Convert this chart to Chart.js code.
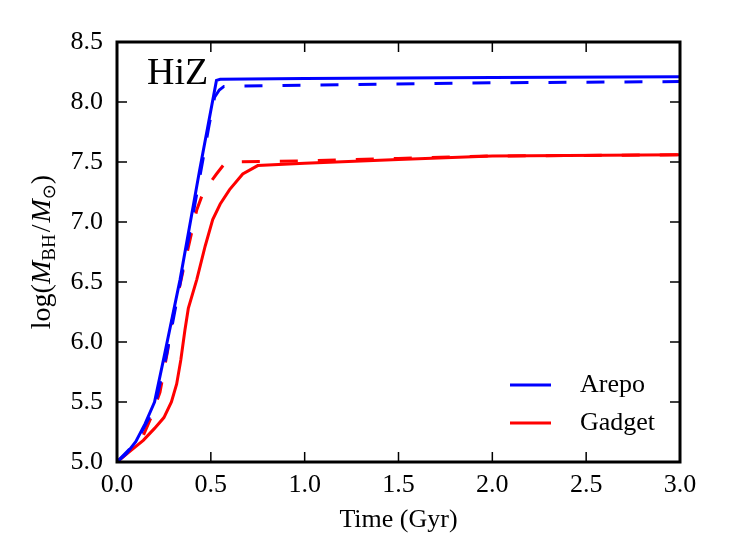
<!DOCTYPE html>
<html>
<head>
<meta charset="utf-8">
<script src="https://cdn.jsdelivr.net/npm/chart.js@4.4.1/dist/chart.umd.min.js"></script>
<style>
  html, body { margin: 0; padding: 0; background: #fff; }
</style>
</head>
<body>
<canvas id="grafico" width="731" height="551"></canvas>
<script>
// dados (Time em Gyr, log M_BH)
var tempoArepo = [0, 0.05, 0.1, 0.15, 0.2, 0.25, 0.336, 0.44, 0.53, 0.55, 1.0, 2.0, 3.0];
var mbhArepo = [5.0, 5.07, 5.17, 5.32, 5.5, 5.87, 6.52, 7.43, 8.18, 8.19, 8.195, 8.205, 8.21];

var tempoArepoTrac = [0, 0.1, 0.2, 0.265, 0.39, 0.49, 0.52, 0.545, 0.57, 1.0, 2.0, 3.0];
var mbhArepoTrac = [5.0, 5.16, 5.45, 5.9, 6.93, 7.8, 8.04, 8.1, 8.13, 8.14, 8.16, 8.17];

var tempoGadget = [0, 0.07, 0.14, 0.2, 0.25, 0.29, 0.318, 0.34, 0.362, 0.38, 0.425, 0.47, 0.51, 0.55, 0.6, 0.67, 0.75, 1.0, 1.5, 2.0, 3.0];
var mbhGadget = [5.0, 5.09, 5.18, 5.28, 5.37, 5.5, 5.65, 5.85, 6.1, 6.28, 6.52, 6.8, 7.02, 7.15, 7.27, 7.4, 7.47, 7.49, 7.52, 7.55, 7.56];

var tempoGadgetTrac = [0, 0.07, 0.14, 0.176, 0.229, 0.27, 0.291, 0.353, 0.425, 0.46, 0.53, 0.575, 0.6, 1.0, 1.5, 2.0, 3.0];
var mbhGadgetTrac = [5.0, 5.1, 5.22, 5.35, 5.58, 5.93, 6.16, 6.6, 7.1, 7.25, 7.4, 7.49, 7.5, 7.51, 7.53, 7.55, 7.56];

var ticksX = [0, 0.5, 1.0, 1.5, 2.0, 2.5, 3.0];
var ticksY = [5.0, 5.5, 6.0, 6.5, 7.0, 7.5, 8.0, 8.5];
var nomesLegenda = ['Arepo', 'Gadget'];

var azul = '#0000ff';
var vermelho = '#ff0000';
var fonte = '"Liberation Serif", "DejaVu Serif", serif';

function pontos(xs, ys) {
  var out = [];
  for (var i = 0; i < xs.length; i++) {
    out.push({ x: xs[i], y: ys[i] });
  }
  return out;
}

// moldura e ticks para dentro (estilo matplotlib)
var moldura = {
  id: 'moldura',
  afterDatasetsDraw: function (chart) {
    var ctx = chart.ctx;
    var a = chart.chartArea;
    var sx = chart.scales.x, sy = chart.scales.y;
    ctx.save();
    ctx.strokeStyle = '#000';
    ctx.lineWidth = 1.5;
    ctx.beginPath();
    ticksX.forEach(function (v) {
      var px = sx.getPixelForValue(v);
      ctx.moveTo(px, a.bottom); ctx.lineTo(px, a.bottom - 10);
      ctx.moveTo(px, a.top); ctx.lineTo(px, a.top + 10);
    });
    ticksY.forEach(function (v) {
      var py = sy.getPixelForValue(v);
      ctx.moveTo(a.left, py); ctx.lineTo(a.left + 10, py);
      ctx.moveTo(a.right, py); ctx.lineTo(a.right - 10, py);
    });
    ctx.stroke();
    ctx.lineWidth = 3;
    ctx.strokeRect(a.left, a.top, a.right - a.left, a.bottom - a.top);

    // rotulo HiZ
    ctx.fillStyle = '#000';
    ctx.font = '38px ' + fonte;
    ctx.textAlign = 'left';
    ctx.textBaseline = 'alphabetic';
    ctx.fillText('HiZ', a.left + 30, a.top + 42);

    // legenda
    var cores = [azul, vermelho];
    var ys = [385, 423];
    ctx.font = '26px ' + fonte;
    ctx.textBaseline = 'middle';
    for (var i = 0; i < nomesLegenda.length; i++) {
      ctx.strokeStyle = cores[i];
      ctx.lineWidth = 3;
      ctx.beginPath();
      ctx.moveTo(510, ys[i]); ctx.lineTo(551, ys[i]);
      ctx.stroke();
      ctx.fillText(nomesLegenda[i], 580, ys[i]);
    }
    ctx.restore();
  },
  afterDraw: function (chart) {
    // titulo do eixo y com subscritos
    var ctx = chart.ctx;
    var a = chart.chartArea;
    var partes = [
      { t: 'log(', f: '28px ' + fonte, dy: 0 },
      { t: 'M', f: 'italic 28px ' + fonte, dy: 0 },
      { t: 'BH', f: '19px ' + fonte, dy: 5 },
      { t: '/', f: '28px ' + fonte, dy: 0 },
      { t: 'M', f: 'italic 28px ' + fonte, dy: 0 },
      { t: '\u2299', f: '18px "DejaVu Sans", sans-serif', dy: 5 },
      { t: ')', f: '28px ' + fonte, dy: 0 }
    ];
    ctx.save();
    var total = 0;
    partes.forEach(function (p) {
      ctx.font = p.f;
      p.w = ctx.measureText(p.t).width + (p.t === '/' ? 4 : 0);
      total += p.w;
    });
    ctx.translate(50, (a.top + a.bottom) / 2);
    ctx.rotate(-Math.PI / 2);
    ctx.fillStyle = '#000';
    ctx.textBaseline = 'alphabetic';
    ctx.textAlign = 'left';
    var x = -total / 2;
    partes.forEach(function (p) {
      ctx.font = p.f;
      ctx.fillText(p.t, x + (p.t === '/' ? 2 : 0), p.dy);
      x += p.w;
    });
    ctx.restore();
  }
};

var ctx = document.getElementById('grafico').getContext('2d');
var chart = new Chart(ctx, {
  type: 'line',
  data: {
    datasets: [
      {
        label: 'Arepo',
        data: pontos(tempoArepo, mbhArepo),
        borderColor: azul,
        borderWidth: 3
      },
      {
        label: 'Arepo tracer',
        data: pontos(tempoArepoTrac, mbhArepoTrac),
        borderColor: azul,
        borderWidth: 3,
        borderDash: [18, 20]
      },
      {
        label: 'Gadget',
        data: pontos(tempoGadget, mbhGadget),
        borderColor: vermelho,
        borderWidth: 3
      },
      {
        label: 'Gadget tracer',
        data: pontos(tempoGadgetTrac, mbhGadgetTrac),
        borderColor: vermelho,
        borderWidth: 3,
        borderDash: [18, 20]
      }
    ]
  },
  options: {
    responsive: false,
    animation: false,
    layout: { padding: { left: 0, right: 51, top: 42, bottom: 0 } },
    elements: {
      point: { radius: 0 },
      line: { tension: 0, fill: false, borderCapStyle: 'butt' }
    },
    plugins: {
      legend: { display: false },
      tooltip: { enabled: false }
    },
    scales: {
      x: {
        type: 'linear',
        min: 0,
        max: 3,
        afterFit: function (s) { s.height = 89; },
        afterBuildTicks: function (s) { s.ticks = ticksX.map(function (v) { return { value: v }; }); },
        grid: { display: false, drawTicks: false },
        border: { display: false },
        ticks: {
          padding: 8,
          color: '#000',
          font: { family: fonte, size: 26 },
          maxRotation: 0,
          callback: function (v) { return v.toFixed(1); }
        },
        title: {
          display: true,
          text: 'Time (Gyr)',
          color: '#000',
          font: { family: fonte, size: 26 },
          padding: { top: 0, bottom: 15 }
        }
      },
      y: {
        type: 'linear',
        min: 5,
        max: 8.5,
        afterFit: function (s) { s.width = 117; },
        afterBuildTicks: function (s) { s.ticks = ticksY.map(function (v) { return { value: v }; }); },
        grid: { display: false, drawTicks: false },
        border: { display: false },
        ticks: {
          padding: 14,
          color: '#000',
          font: { family: fonte, size: 26 },
          callback: function (v) { return v.toFixed(1); }
        }
      }
    }
  },
  plugins: [moldura]
});
</script>
</body>
</html>
